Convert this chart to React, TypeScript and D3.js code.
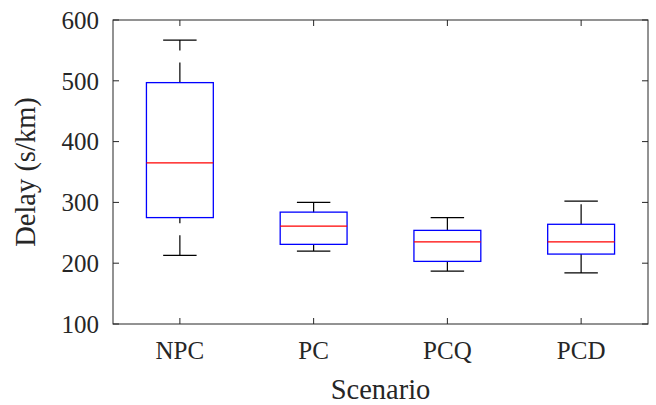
import * as d3 from "d3";

const categories = ["NPC", "PC", "PCQ", "PCD"];
const lowerWhisker = [213, 220, 187, 184];
const q1 = [275, 231, 203, 215];
const median = [365, 261, 235, 235];
const q3 = [497, 284, 254, 264];
const upperWhisker = [567, 300, 275, 302];
const yTicks = [100, 200, 300, 400, 500, 600];

export default function App() {
  const width = 656;
  const height = 405;
  const margin = { top: 20, right: 8, bottom: 81, left: 113 };
  const left = margin.left;
  const right = width - margin.right;
  const top = margin.top;
  const bottom = height - margin.bottom;

  // one band per scenario, box = half band, whisker cap = quarter band
  const x = d3.scaleBand<string>().domain(categories).range([left, right]).padding(0);
  const y = d3.scaleLinear().domain([100, 600]).range([bottom, top]);
  const bw = x.bandwidth();
  const boxW = bw * 0.5;
  const capW = bw * 0.25;

  const axisColor = "#262626";
  const font = "Liberation Serif";

  return (
    <svg
      width={width}
      height={height}
      style={{ position: "absolute", left: 0, top: 0, background: "#fff" }}
    >
      {/* boxes */}
      {categories.map((c, i) => {
        const cx = x(c)! + bw / 2;
        return (
          <g key={c}>
            <line
              x1={cx}
              x2={cx}
              y1={y(q3[i])}
              y2={y(upperWhisker[i])}
              stroke="#000"
              strokeWidth={1.2}
              strokeDasharray="20 12"
            />
            <line
              x1={cx}
              x2={cx}
              y1={y(lowerWhisker[i])}
              y2={y(q1[i])}
              stroke="#000"
              strokeWidth={1.2}
              strokeDasharray="20 12"
            />
            <line
              x1={cx - capW / 2}
              x2={cx + capW / 2}
              y1={y(upperWhisker[i])}
              y2={y(upperWhisker[i])}
              stroke="#000"
              strokeWidth={1.2}
            />
            <line
              x1={cx - capW / 2}
              x2={cx + capW / 2}
              y1={y(lowerWhisker[i])}
              y2={y(lowerWhisker[i])}
              stroke="#000"
              strokeWidth={1.2}
            />
            <rect
              x={cx - boxW / 2}
              y={y(q3[i])}
              width={boxW}
              height={y(q1[i]) - y(q3[i])}
              fill="none"
              stroke="#0000ff"
              strokeWidth={1.3}
            />
            <line
              x1={cx - boxW / 2}
              x2={cx + boxW / 2}
              y1={y(median[i])}
              y2={y(median[i])}
              stroke="#ff0000"
              strokeWidth={1.2}
            />
          </g>
        );
      })}

      {/* axes box */}
      <rect
        x={left}
        y={top}
        width={right - left}
        height={bottom - top}
        fill="none"
        stroke={axisColor}
        strokeWidth={1}
      />

      {/* y ticks */}
      {yTicks.map((t) => (
        <g key={t}>
          <line x1={left} x2={left + 6} y1={y(t)} y2={y(t)} stroke={axisColor} />
          <line x1={right} x2={right - 6} y1={y(t)} y2={y(t)} stroke={axisColor} />
          <text
            x={left - 14}
            y={y(t)}
            dy="0.35em"
            textAnchor="end"
            fontSize={25}
            fontFamily={font}
            fill="#262626"
          >
            {t}
          </text>
        </g>
      ))}

      {/* x ticks */}
      {categories.map((c) => {
        const cx = x(c)! + bw / 2;
        return (
          <g key={c}>
            <line x1={cx} x2={cx} y1={bottom} y2={bottom - 6} stroke={axisColor} />
            <line x1={cx} x2={cx} y1={top} y2={top + 6} stroke={axisColor} />
            <text
              x={cx}
              y={359}
              textAnchor="middle"
              fontSize={25}
              fontFamily={font}
              fill="#262626"
            >
              {c}
            </text>
          </g>
        );
      })}

      {/* axis labels */}
      <text
        x={(left + right) / 2}
        y={399}
        textAnchor="middle"
        fontSize={28.5}
        fontFamily={font}
        fill="#262626"
      >
        Scenario
      </text>
      <text
        transform={`translate(34.5, ${(top + bottom) / 2}) rotate(-90)`}
        textAnchor="middle"
        fontSize={28.5}
        fontFamily={font}
        fill="#262626"
      >
        Delay (s/km)
      </text>
    </svg>
  );
}
